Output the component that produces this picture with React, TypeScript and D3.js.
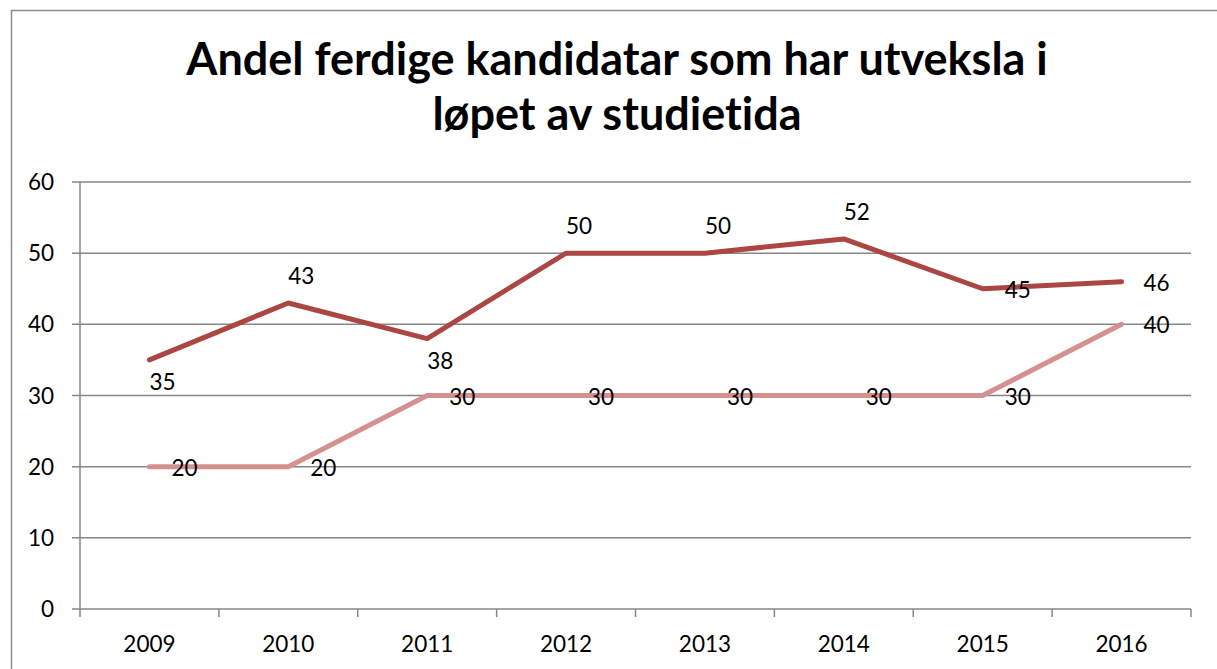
import React from "react";
import * as d3 from "d3";

const years = ["2009", "2010", "2011", "2012", "2013", "2014", "2015", "2016"];
const seriesDark = [35, 43, 38, 50, 50, 52, 45, 46];
const seriesLight = [20, 20, 30, 30, 30, 30, 30, 40];
// label placement per point: "above" | "below" | "right"
const darkLabelPos = ["below", "above", "below", "above", "above", "above", "right", "right"];
const lightLabelPos = ["right", "right", "right", "right", "right", "right", "right", "right"];
const yTicks = [0, 10, 20, 30, 40, 50, 60];
const titleLines = ["Andel ferdige kandidatar som har utveksla i", "løpet av studietida"];

const W = 1217;
const H = 669;
const FONT = "Lato, 'Open Sans', sans-serif";

export default function App() {
  const left = 80;
  const right = 1191;
  const top = 182;
  const bottom = 609;

  const x = d3.scaleBand<string>().domain(years).range([left, right]).padding(0);
  const y = d3.scaleLinear().domain([0, 60]).range([bottom, top]);
  const cx = (i: number) => (x(years[i]) as number) + x.bandwidth() / 2;

  const line = d3
    .line<number>()
    .x((_, i) => cx(i))
    .y((d) => y(d));

  const labelProps = (pos: string, i: number, v: number) => {
    const px = cx(i);
    const py = y(v);
    if (pos === "above") return { x: px + 13, y: py - 19, anchor: "middle" };
    if (pos === "below") return { x: px + 13, y: py + 30, anchor: "middle" };
    return { x: px + 22, y: py + 9, anchor: "start" };
  };

  const boundaries = years.map((yr) => x(yr) as number).concat([right]);

  return (
    <svg
      width={W}
      height={H}
      style={{ position: "absolute", left: 0, top: 0, background: "#fff", fontVariantLigatures: "none" }}
      fontFamily={FONT}
    >
      <rect x={0} y={0} width={W} height={H} fill="#fff" />
      {/* outer chart border */}
      <path d={`M11.5,${H + 5} V10.5 H${W + 5}`} fill="none" stroke="#8c8c8c" strokeWidth={1.5} />

      {/* title */}
      {titleLines.map((t, i) => (
        <text
          key={i}
          x={617}
          y={75 + i * 55}
          textAnchor="middle"
          fontSize={45}
          fontWeight="bold"
          fill="#000"
          style={{ fontVariantLigatures: "none", fontFeatureSettings: "'liga' 0" }}
        >
          {t}
        </text>
      ))}

      {/* gridlines */}
      {yTicks.map((t) => (
        <line
          key={t}
          x1={left - 8}
          x2={right}
          y1={y(t)}
          y2={y(t)}
          stroke="#878787"
          strokeWidth={1.5}
        />
      ))}
      {/* y axis */}
      <line x1={left} x2={left} y1={top} y2={bottom} stroke="#878787" strokeWidth={1.5} />
      {/* x category tick marks */}
      {boundaries.map((b, i) => (
        <line key={i} x1={b} x2={b} y1={bottom} y2={bottom + 8} stroke="#878787" strokeWidth={1.5} />
      ))}

      {/* y labels */}
      {yTicks.map((t) => (
        <text key={t} x={54} y={y(t) + 8} textAnchor="end" fontSize={22.5} fill="#000">
          {t}
        </text>
      ))}
      {/* x labels */}
      {years.map((yr, i) => (
        <text key={yr} x={cx(i)} y={652} textAnchor="middle" fontSize={22.5} fill="#000">
          {yr}
        </text>
      ))}

      {/* lines */}
      <path d={line(seriesLight) || ""} fill="none" stroke="#d4918f" strokeWidth={5} strokeLinejoin="round" strokeLinecap="round" />
      <path d={line(seriesDark) || ""} fill="none" stroke="#ab4643" strokeWidth={5} strokeLinejoin="round" strokeLinecap="round" />

      {/* data labels */}
      {seriesDark.map((v, i) => {
        const p = labelProps(darkLabelPos[i], i, v);
        return (
          <text key={"d" + i} x={p.x} y={p.y} textAnchor={p.anchor as any} fontSize={22.5} fill="#000">
            {v}
          </text>
        );
      })}
      {seriesLight.map((v, i) => {
        const p = labelProps(lightLabelPos[i], i, v);
        return (
          <text key={"l" + i} x={p.x} y={p.y} textAnchor={p.anchor as any} fontSize={22.5} fill="#000">
            {v}
          </text>
        );
      })}
    </svg>
  );
}
